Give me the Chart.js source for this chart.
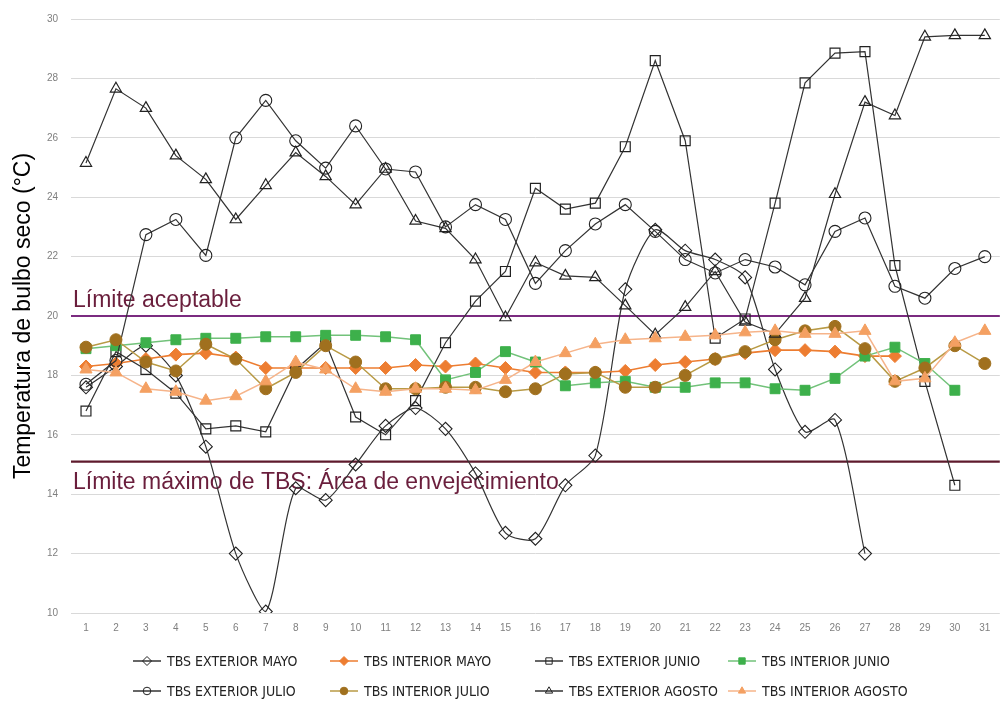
<!DOCTYPE html>
<html>
<head>
<meta charset="utf-8">
<script src="https://cdn.jsdelivr.net/npm/chart.js@4.4.0/dist/chart.umd.min.js"></script>
<style>
html,body{margin:0;padding:0;background:#fff;}
#wrap{width:1008px;height:701px;position:relative;}
</style>
</head>
<body>
<div id="wrap"><canvas id="c" width="1008" height="701"></canvas></div>
<script>
const days = Array.from({length:31},(_,i)=>String(i+1));
const yTicks = [10,12,14,16,18,20,22,24,26,28,30];
const limitAceptable = 20;
const limitMaximo = 15.1;
const labelAceptable = 'Límite aceptable';
const labelMaximo = 'Límite máximo de TBS: Área de envejecimiento';
const yTitle = 'Temperatura de bulbo seco (°C)';

const extMayo   = [17.6,18.3,19.0,18.0,15.6,12.0,10.05,14.2,13.8,15.0,16.3,16.9,16.2,14.7,12.7,12.5,14.3,15.3,20.9,22.9,22.2,21.9,21.3,18.2,16.1,16.5,12.0,null,null,null,null];
const intMayo   = [18.3,18.4,18.55,18.7,18.75,18.6,18.25,18.25,18.25,18.25,18.25,18.35,18.3,18.4,18.25,18.1,18.1,18.1,18.15,18.35,18.45,18.55,18.75,18.85,18.85,18.8,18.65,18.65,null,null,null];
const extJunio  = [16.8,18.8,18.2,17.4,16.2,16.3,16.1,18.2,19.1,16.6,16.0,17.15,19.1,20.5,21.5,24.3,23.6,23.8,25.7,28.6,25.9,19.25,19.9,23.8,27.85,28.85,28.9,21.7,17.8,14.3,null];
const intJunio  = [18.9,19.0,19.1,19.2,19.25,19.25,19.3,19.3,19.35,19.35,19.3,19.2,17.85,18.1,18.8,18.45,17.65,17.75,17.8,17.6,17.6,17.75,17.75,17.55,17.5,17.9,18.65,18.95,18.4,17.5,null];
const extJulio  = [17.7,18.5,22.74,23.25,22.04,26.0,27.26,25.9,24.98,26.4,24.95,24.85,23.0,23.75,23.25,21.1,22.2,23.1,23.75,22.85,21.9,21.45,21.9,21.65,21.05,22.85,23.3,21.0,20.6,21.6,22.0];
const intJulio  = [18.95,19.2,18.45,18.15,19.05,18.55,17.55,18.1,19.0,18.45,17.55,17.55,17.6,17.6,17.45,17.55,18.05,18.1,17.6,17.6,18.0,18.55,18.8,19.2,19.5,19.65,18.9,17.8,18.25,19.0,18.4];
const extAgosto = [25.15,27.65,27.0,25.4,24.6,23.25,24.4,25.5,24.7,23.75,24.95,23.2,22.95,21.9,19.95,21.8,21.35,21.3,20.35,19.37,20.3,21.5,19.8,19.4,20.6,24.1,27.2,26.75,29.4,29.45,29.45];
const intAgosto = [18.2,18.1,17.55,17.45,17.15,17.3,17.8,18.45,18.2,17.55,17.45,17.55,17.55,17.5,17.85,18.45,18.75,19.05,19.2,19.25,19.3,19.35,19.45,19.5,19.4,19.4,19.5,17.8,17.9,19.1,19.5];

const seriesNames = ['TBS EXTERIOR MAYO','TBS INTERIOR MAYO','TBS EXTERIOR JUNIO','TBS INTERIOR JUNIO','TBS EXTERIOR JULIO','TBS INTERIOR JULIO','TBS EXTERIOR AGOSTO','TBS INTERIOR AGOSTO'];
const seriesData = [extMayo,intMayo,extJunio,intJunio,extJulio,intJulio,extAgosto,intAgosto];

const styles = [
  {line:'#333333', fill:'rgba(0,0,0,0)', border:'#222', ps:'rectRot', r:6.5, bw:1.1, lw:1.2, tension:0.25, lr:4.5},
  {line:'#ED7D31', fill:'#ED7D31', border:'#ED7D31', ps:'rectRot', r:6.5, bw:1, lw:1.6, tension:0, lr:4.5},
  {line:'#333333', fill:'rgba(0,0,0,0)', border:'#222', ps:'rect', r:7, bw:1.2, lw:1.2, tension:0, lr:4.5},
  {line:'#72C27A', fill:'#3DB04B', border:'#3DB04B', ps:'rect', r:7, bw:1, lw:1.5, tension:0, lr:4.5},
  {line:'#333333', fill:'rgba(0,0,0,0)', border:'#222', ps:'circle', r:6, bw:1.1, lw:1.2, tension:0, lr:3.8},
  {line:'#B89A45', fill:'#A0701E', border:'#A0701E', ps:'circle', r:6, bw:1, lw:1.5, tension:0, lr:3.8},
  {line:'#333333', fill:'rgba(0,0,0,0)', border:'#222', ps:'triangle', r:6.5, bw:1.2, lw:1.2, tension:0, lr:4.2},
  {line:'#F6B48A', fill:'#F4A062', border:'#F4A062', ps:'triangle', r:7, bw:1, lw:1.5, tension:0, lr:4.2}
];

const datasets = seriesData.map((d,i)=>({
  label: seriesNames[i],
  data: d,
  borderColor: styles[i].line,
  borderWidth: styles[i].lw,
  backgroundColor: styles[i].fill,
  pointStyle: styles[i].ps,
  pointRadius: styles[i].r,
  pointBorderColor: styles[i].border,
  pointBackgroundColor: styles[i].fill,
  pointBorderWidth: styles[i].bw,
  tension: styles[i].tension,
  spanGaps: false,
  fill: false,
  order: 8 - i
}));

const limitsPlugin = {
  id: 'limits',
  beforeDatasetsDraw(chart){
    const {ctx, chartArea, scales:{y}} = chart;
    ctx.save();
    const y1 = y.getPixelForValue(limitAceptable);
    const y2 = y.getPixelForValue(limitMaximo);
    ctx.lineWidth = 2.2;
    ctx.strokeStyle = '#7B2B80';
    ctx.beginPath(); ctx.moveTo(chartArea.left, y1); ctx.lineTo(chartArea.right, y1); ctx.stroke();
    ctx.strokeStyle = '#5E1A2C';
    ctx.beginPath(); ctx.moveTo(chartArea.left, y2); ctx.lineTo(chartArea.right, y2); ctx.stroke();
    ctx.fillStyle = '#6A1E3C';
    ctx.font = '23px "Liberation Sans", Arial, sans-serif';
    ctx.textBaseline = 'alphabetic';
    ctx.textAlign = 'left';
    ctx.fillText(labelAceptable, chartArea.left + 2, y1 - 9);
    ctx.fillText(labelMaximo, chartArea.left + 2, y2 + 27);
    ctx.restore();
  }
};

const legendPlugin = {
  id: 'customLegend',
  afterDraw(chart){
    const {ctx} = chart;
    const colX = [133, 330, 535, 728];
    const rowY = [661, 691];
    ctx.save();
    chart.data.datasets.forEach((ds,i)=>{
      const x0 = colX[i%4], yy = rowY[Math.floor(i/4)];
      ctx.strokeStyle = ds.borderColor;
      ctx.lineWidth = 1.5;
      ctx.beginPath(); ctx.moveTo(x0, yy); ctx.lineTo(x0+28, yy); ctx.stroke();
      ctx.fillStyle = ds.pointBackgroundColor;
      ctx.strokeStyle = ds.pointBorderColor;
      ctx.lineWidth = 1;
      Chart.helpers.drawPoint(ctx, {pointStyle: ds.pointStyle, radius: styles[i].lr, rotation: 0, borderWidth: 1}, x0+14, yy);
      ctx.fillStyle = '#222';
      ctx.font = '14px "Liberation Sans Narrow", "Arial Narrow", "DejaVu Sans Condensed", sans-serif';
      ctx.textBaseline = 'middle';
      ctx.textAlign = 'left';
      ctx.fillText(ds.label, x0 + 34, yy + 1);
    });
    ctx.restore();
  }
};

new Chart(document.getElementById('c'), {
  type: 'line',
  data: { labels: days, datasets },
  options: {
    responsive: false,
    animation: false,
    layout: { padding: { top: 15, right: 3, left: 0, bottom: 0 } },
    plugins: { legend: { display: false }, tooltip: { enabled: false } },
    scales: {
      x: {
        offset: true,
        grid: { display: false, drawTicks: false },
        border: { display: false },
        ticks: { color: '#7f7f7f', font: { size: 10, family: '"Liberation Sans", Arial, sans-serif' }, padding: 9, maxRotation: 0, autoSkip: false },
        afterFit(s){ s.height = 88; }
      },
      y: {
        min: 10, max: 30,
        afterBuildTicks(s){ s.ticks = yTicks.map(v=>({value:v})); },
        grid: { color: '#d9d9d9', lineWidth: 1, drawTicks: false },
        border: { display: false },
        ticks: { color: '#7f7f7f', font: { size: 10, family: '"Liberation Sans", Arial, sans-serif' }, padding: 13 },
        title: { display: true, text: yTitle, color: '#000', font: { size: 23, family: '"Liberation Sans", Arial, sans-serif' }, padding: { top: 10, bottom: 0 } },
        afterFit(s){ s.width = 71; }
      }
    }
  },
  plugins: [limitsPlugin, legendPlugin]
});
</script>
</body>
</html>
